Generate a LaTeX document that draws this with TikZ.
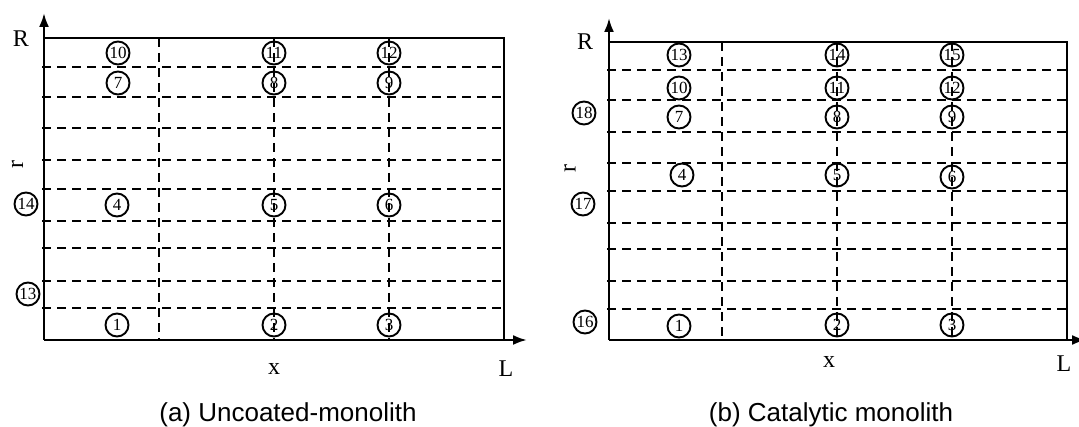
\documentclass[tikz,border=0pt]{standalone}
\usepackage{fontspec}
\setmainfont{Liberation Serif}
\newfontfamily\capfont{Liberation Sans}
\usetikzlibrary{arrows.meta}

\begin{document}
\begin{tikzpicture}[x=1pt,y=-1pt,
  axisline/.style={line width=2.4pt,-{Latex[length=14pt,width=10pt]}},
  frameline/.style={line width=2.4pt},
  gridline/.style={line width=2.7pt,dash pattern=on 9pt off 6pt},
  cell/.style={circle,draw,line width=1.9pt,minimum size=23pt,inner sep=0pt,
    font=\fontsize{17}{17}\selectfont},
  axlabel/.style={anchor=base,inner sep=0pt,font=\fontsize{24}{24}\selectfont},
  caption/.style={anchor=base,inner sep=0pt,font=\capfont\fontsize{26}{26}\selectfont}]
\useasboundingbox (0,0) rectangle (1079,427);

% ---------- (a) uncoated monolith ----------
\coordinate (aO)  at (44,340);
\coordinate (aY)  at (44,13);
\coordinate (aX)  at (527,340);
\coordinate (aTL) at (44,38);
\coordinate (aTR) at (504,38);
\coordinate (aBR) at (504,340);

\foreach \y in {67,97,128,160,189,221,248,281,308}
  \draw[gridline] (42,\y) -- (504,\y);
\foreach \x in {159,274,389}
  \draw[gridline] (\x,38) -- (\x,340);

\draw[frameline] (aTL) -- (aTR) -- (aBR);
\draw[axisline] (aO) -- (aY);
\draw[axisline] (aO) -- (aX);

\node[axlabel] (aR) at (21,47) {R};
\node[axlabel,rotate=90,anchor=center] (ar) at (17.5,165) {r};
\node[axlabel] (ax) at (274,375) {x};
\node[axlabel] (aL) at (506,377) {L};

\node[cell] (a10) at (118,53) {10};
\node[cell] (a11) at (274,53) {11};
\node[cell] (a12) at (389,53) {12};
\node[cell] (a7)  at (118,83) {7};
\node[cell] (a8)  at (274,83) {8};
\node[cell] (a9)  at (389,83) {9};
\node[cell] (a4)  at (117,205) {4};
\node[cell] (a5)  at (274,205) {5};
\node[cell] (a6)  at (389,205) {6};
\node[cell] (a1)  at (117,325) {1};
\node[cell] (a2)  at (274,325) {2};
\node[cell] (a3)  at (389,325) {3};
\node[cell] (a14) at (26,204) {14};
\node[cell] (a13) at (28,294) {13};

\node[caption] (capa) at (288,421.5) {(a) Uncoated-monolith};

% ---------- (b) catalytic monolith ----------
\coordinate (bO)  at (609,340);
\coordinate (bY)  at (609,18);
\coordinate (bX)  at (1086,340);
\coordinate (bTL) at (609,42);
\coordinate (bTR) at (1067,42);
\coordinate (bBR) at (1067,340);

\foreach \y in {70,100,132,163,191,223,249,281,309}
  \draw[gridline] (607,\y) -- (1067,\y);
\foreach \x in {722,837,952}
  \draw[gridline] (\x,42) -- (\x,340);

\draw[frameline] (bTL) -- (bTR) -- (bBR);
\draw[axisline] (bO) -- (bY);
\draw[axisline] (bO) -- (bX);

\node[axlabel] (bR) at (585,50) {R};
\node[axlabel,rotate=90,anchor=center] (br) at (570,169) {r};
\node[axlabel] (bx) at (829,368) {x};
\node[axlabel] (bL) at (1064,372) {L};

\node[cell] (b13) at (679,55)  {13};
\node[cell] (b14) at (837,55)  {14};
\node[cell] (b15) at (952,55)  {15};
\node[cell] (b10) at (679,88)  {10};
\node[cell] (b11) at (837,88)  {11};
\node[cell] (b12) at (952,88)  {12};
\node[cell] (b7)  at (679,117) {7};
\node[cell] (b8)  at (837,117) {8};
\node[cell] (b9)  at (952,117) {9};
\node[cell] (b4)  at (682,175) {4};
\node[cell] (b5)  at (837,175) {5};
\node[cell] (b6)  at (952,177) {6};
\node[cell] (b1)  at (679,326) {1};
\node[cell] (b2)  at (837,325) {2};
\node[cell] (b3)  at (952,325) {3};
\node[cell] (b18) at (584,113) {18};
\node[cell] (b17) at (583,204) {17};
\node[cell] (b16) at (585,322) {16};

\node[caption] (capb) at (831,421.5) {(b) Catalytic monolith};
\end{tikzpicture}
\end{document}
